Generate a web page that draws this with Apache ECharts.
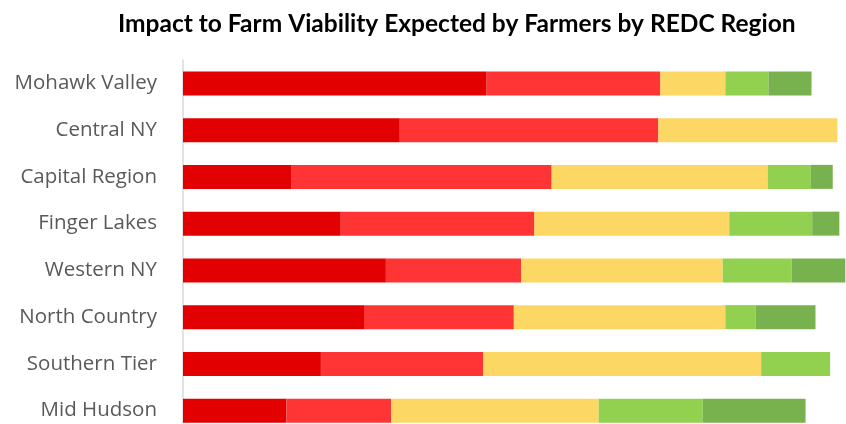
<!DOCTYPE html>
<html>
<head>
<meta charset="utf-8">
<script src="https://cdn.jsdelivr.net/npm/echarts@6/dist/echarts.min.js"></script>
<style>
  html, body { margin: 0; padding: 0; background: #fff; }
  #main { width: 846px; height: 424px; }
</style>
</head>
<body>
<div id="main"></div>
<script>
// regions, top to bottom
var regions = ['Mohawk Valley', 'Central NY', 'Capital Region', 'Finger Lakes',
  'Western NY', 'North Country', 'Southern Tier', 'Mid Hudson']

// share of farmers (%) per impact level
var level1 = [45.8, 32.7, 16.4, 23.8, 30.6, 27.3, 20.8, 15.6]
var level2 = [26.2, 39.0, 39.2, 29.2, 20.4, 22.6, 24.5, 15.8]
var level3 = [9.8, 27.0, 32.6, 29.4, 30.4, 31.9, 41.9, 31.3]
var level4 = [6.5, 0, 6.5, 12.5, 10.4, 4.6, 10.4, 15.7]
var level5 = [6.5, 0, 3.3, 4.1, 8.1, 9.0, 0, 15.5]

var colors = ['#E20000', '#FF3535', '#FDD764', '#92D050', '#78B24E']

var myChart = echarts.init(document.getElementById('main'))

function bar(name, data, i) {
  return {
    name: name,
    type: 'bar',
    stack: 'total',
    barWidth: 24,
    itemStyle: { color: colors[i] },
    data: data
  }
}

myChart.setOption({
  animation: false,
  title: {
    text: 'Impact to Farm Viability Expected by Farmers by REDC Region',
    left: 113,
    top: 7,
    textStyle: {
      fontFamily: 'Lato',
      fontWeight: 'bold',
      fontSize: 24.5,
      color: '#000'
    }
  },
  grid: {
    left: 183,
    right: 0,
    top: 60,
    height: 374,
    outerBoundsMode: 'none'
  },
  xAxis: {
    type: 'value',
    min: 0,
    max: 100,
    show: false
  },
  yAxis: {
    type: 'category',
    inverse: true,
    data: regions,
    axisLine: { lineStyle: { color: '#D9D9D9', width: 1.5 } },
    axisTick: { show: false },
    axisLabel: {
      margin: 26,
      fontFamily: 'Open Sans',
      fontSize: 20.5,
      color: '#595959'
    }
  },
  series: [
    bar('1', level1, 0),
    bar('2', level2, 1),
    bar('3', level3, 2),
    bar('4', level4, 3),
    bar('5', level5, 4)
  ]
})
</script>
</body>
</html>
